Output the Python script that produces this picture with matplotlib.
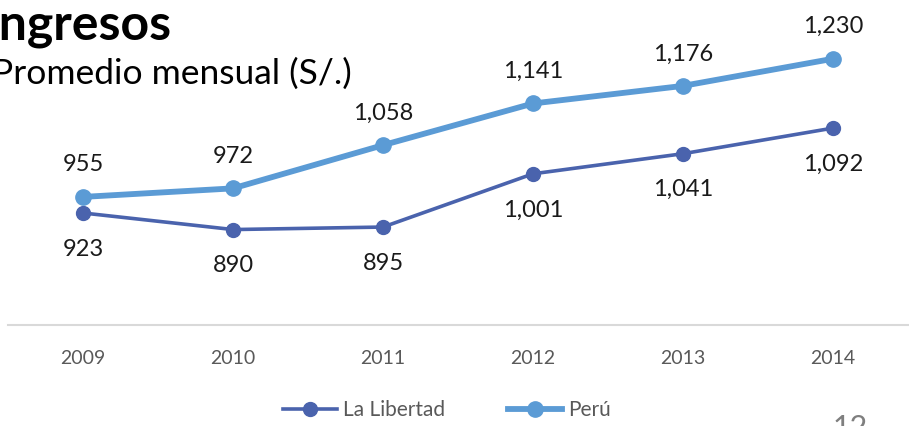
import matplotlib
matplotlib.use("Agg")
import matplotlib.pyplot as plt

years = ["2009", "2010", "2011", "2012", "2013", "2014"]
la_libertad = [923, 890, 895, 1001, 1041, 1092]
peru = [955, 972, 1058, 1141, 1176, 1230]

plt.rcParams['font.family'] = ['Lato', 'DejaVu Sans']

W, H = 909, 426
fig = plt.figure(figsize=(W / 100, H / 100), dpi=100)

# plot area: x from 8px to 908px, axis line at y=325px
ax = fig.add_axes([8 / W, (H - 325) / H, 900 / W, 324 / H])
x = list(range(len(years)))

c_lib = '#4A63AD'
c_peru = '#5B9BD5'

ax.plot(x, la_libertad, color=c_lib, lw=2.6, marker='o', ms=10, label='La Libertad', zorder=3)
ax.plot(x, peru, color=c_peru, lw=4.2, marker='o', ms=11, label='Perú', zorder=4)

for i in x:
    ax.annotate(f"{peru[i]:,}", (i, peru[i]), xytext=(0, 23), textcoords='offset points',
                ha='center', va='center', fontsize=17, color='#1a1a1a')
    ax.annotate(f"{la_libertad[i]:,}", (i, la_libertad[i]), xytext=(0, -26), textcoords='offset points',
                ha='center', va='center', fontsize=17, color='#1a1a1a')

ax.set_xlim(-0.5, 5.5)
ax.set_ylim(700, 1345)
ax.set_xticks(x)
ax.set_xticklabels(years)
ax.tick_params(axis='x', length=0, pad=18, labelsize=14, labelcolor='#595959')
ax.set_yticks([])
for s in ['top', 'right', 'left']:
    ax.spines[s].set_visible(False)
ax.spines['bottom'].set_color('#D9D9D9')
ax.spines['bottom'].set_linewidth(1.5)
ax.patch.set_alpha(0)

fig.legend(loc='center', bbox_to_anchor=(447 / W, 1 - 410 / H), ncol=2, frameon=False,
           fontsize=15, handlelength=2.6, columnspacing=3.0, handletextpad=0.3,
           labelcolor='#595959')

fig.text(171 / W, 1 - 25 / H, "Ingresos", ha='right', va='center', fontsize=36,
         fontweight='bold', color='black')
fig.text(-8 / W, 1 - 74 / H, "Promedio mensual (S/.)", ha='left', va='center', fontsize=25.5,
         color='black')
fig.text(850 / W, 1 - 414 / H, "12", ha='center', va='top', fontsize=22, color='#7f7f7f')

fig.savefig('out.png', dpi=100)
